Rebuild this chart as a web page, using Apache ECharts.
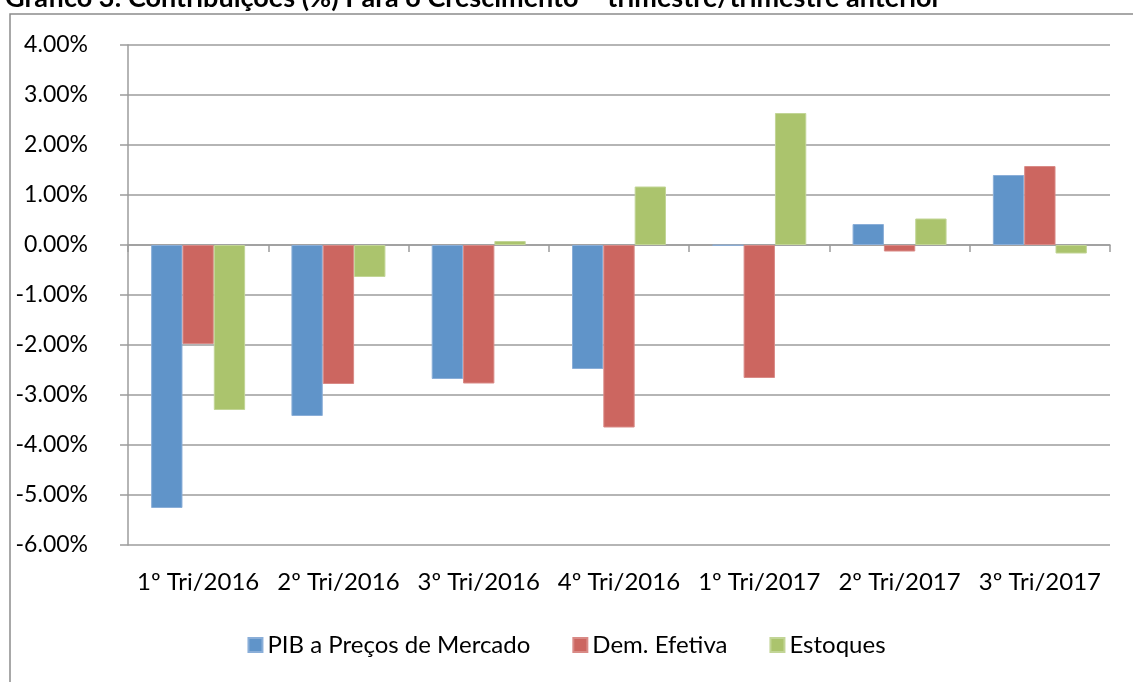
<!DOCTYPE html>
<html>
<head>
<meta charset="utf-8">
<script src="https://cdn.jsdelivr.net/npm/echarts@6/dist/echarts.min.js"></script>
<style>
html, body { margin: 0; padding: 0; background: #fff; }
#main { width: 1133px; height: 682px; }
</style>
</head>
<body>
<div id="main"></div>
<script>
var categories = ['1º Tri/2016', '2º Tri/2016', '3º Tri/2016', '4º Tri/2016', '1º Tri/2017', '2º Tri/2017', '3º Tri/2017'];
var pib = [-5.26, -3.42, -2.68, -2.48, -0.01, 0.42, 1.40];
var demEfetiva = [-1.98, -2.78, -2.77, -3.65, -2.66, -0.13, 1.58];
var estoques = [-3.30, -0.64, 0.08, 1.17, 2.64, 0.53, -0.17];
var seriesNames = ['PIB a Preços de Mercado', 'Dem. Efetiva', 'Estoques'];

var fontFam = 'Lato, "Noto Sans", sans-serif';
var chart = echarts.init(document.getElementById('main'));

function barSeries(name, data, color, border) {
	return {
		name: name,
		type: 'bar',
		xAxisIndex: 0,
		data: data,
		barGap: '0%',
		barCategoryGap: '33%',
		itemStyle: { color: color, borderColor: border, borderWidth: 1 }
	};
}

var option = {
	animation: false,
	backgroundColor: '#fff',
	title: {
		text: 'Gráfico 3: Contribuições (%) Para o Crescimento – trimestre/trimestre anterior',
		left: 0,
		top: -20,
		textStyle: { fontFamily: fontFam, fontSize: 27, fontWeight: 'bold', color: '#000' }
	},
	graphic: [{
		type: 'rect',
		shape: { x: 10, y: 14, width: 1200, height: 800 },
		style: { fill: 'none', stroke: '#8c8c8c', lineWidth: 1.5 },
		silent: true
	}],
	legend: {
		data: seriesNames,
		top: 628,
		left: 'center',
		icon: 'rect',
		itemWidth: 14,
		itemHeight: 14,
		itemGap: 42,
		textStyle: { fontFamily: fontFam, fontSize: 24, color: '#000' }
	},
	grid: { left: 128, right: 23, top: 45, bottom: 137 },
	xAxis: [{
		type: 'category',
		data: categories,
		axisLine: { onZero: true, lineStyle: { color: '#9c9c9c', width: 1.5 } },
		axisTick: { show: true, length: 7, lineStyle: { color: '#9c9c9c', width: 1.5 } },
		axisLabel: { show: false }
	}, {
		type: 'category',
		data: categories,
		position: 'bottom',
		axisLine: { show: false, onZero: false },
		axisTick: { show: false },
		axisLabel: { interval: 0, margin: 25, fontFamily: fontFam, fontSize: 24, color: '#000' }
	}],
	yAxis: {
		type: 'value',
		min: -6,
		max: 4,
		interval: 1,
		axisLine: { show: true, lineStyle: { color: '#9c9c9c', width: 1.5 } },
		axisTick: { show: true, length: 8, lineStyle: { color: '#9c9c9c', width: 1.5 } },
		splitLine: { lineStyle: { color: '#9c9c9c', width: 1.5 } },
		axisLabel: {
			margin: 40,
			fontFamily: fontFam,
			fontSize: 23,
			color: '#000',
			formatter: function(v) { return v.toFixed(2) + '%'; }
		}
	},
	series: [
		barSeries(seriesNames[0], pib, '#6094c9', '#8aaed8'),
		barSeries(seriesNames[1], demEfetiva, '#cc6660', '#d98a86'),
		barSeries(seriesNames[2], estoques, '#abc46d', '#c2d596')
	]
};
chart.setOption(option);
</script>
</body>
</html>
